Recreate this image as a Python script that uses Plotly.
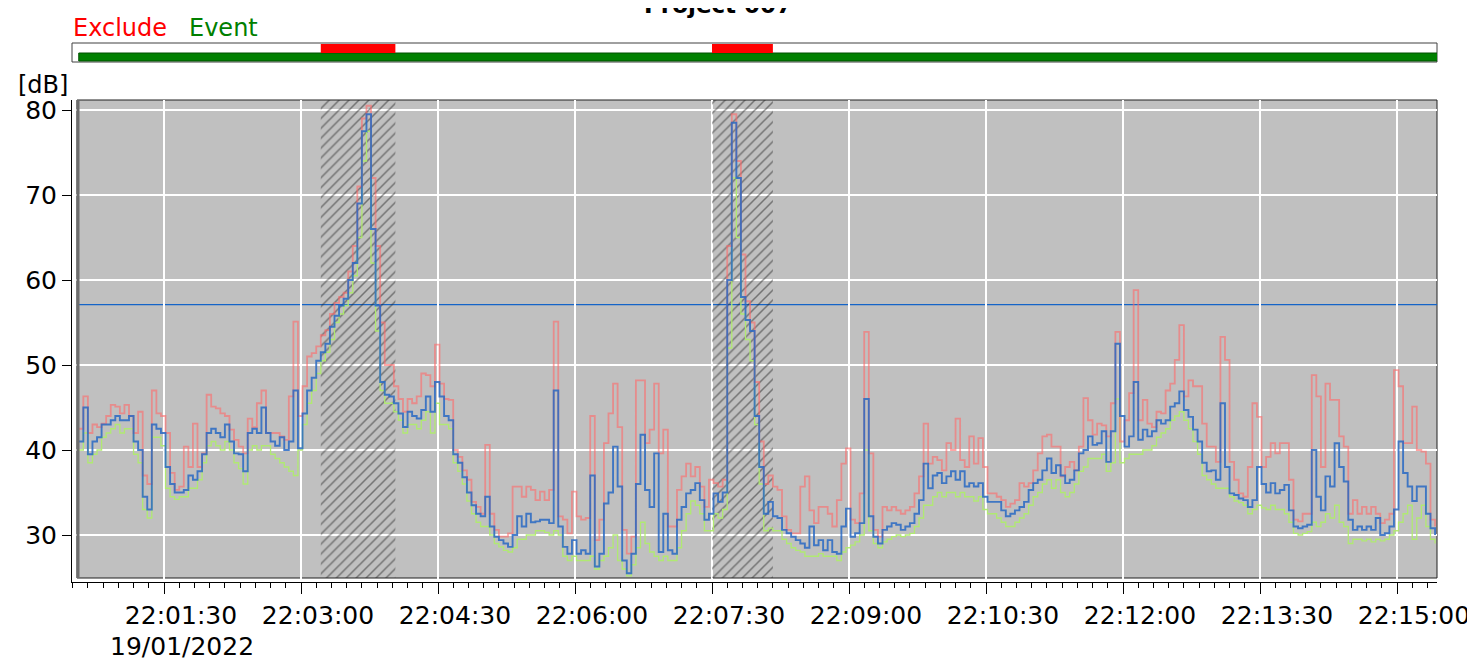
import plotly.graph_objects as go
import pandas as pd

W, H = 1475, 664

# ---------------- data ----------------
start_time = "2022-01-19 22:00:34"
sample_step = "3s"

leq = [
    41, 45, 39.5, 41, 41.5, 43, 43, 43.5, 44, 43.5,
    43.5, 44, 41, 40, 34.5, 33, 43, 42.5, 42, 38,
    36, 35, 35, 35.3, 37, 36.5, 37.5, 39.5, 42, 42.5,
    42, 41.5, 43, 41, 39.6, 39.5, 37.5, 42, 42.5, 42,
    45, 42, 41, 40.5, 41.5, 40, 41, 47, 40.2, 44.3,
    47, 48.5, 50.5, 51.5, 52.5, 54.5, 55.8, 57, 57.8, 60,
    62, 69, 77.5, 79.5, 66, 57, 48, 46.5, 46.3, 45.5,
    44.3, 42.7, 44.5, 44, 43.7, 44.7, 46.3, 44.5, 48, 46.3,
    44, 43.5, 39.5, 38.5, 36.8, 35, 33.5, 32.5, 32.2, 34.5,
    31, 29.8, 29.4, 29, 28.6, 30, 32.2, 31, 32.5, 31.5,
    31.6, 31.8, 31.8, 31.4, 47, 31, 28.6, 27.8, 29.4, 27.8,
    28.2, 27.8, 37, 26.3, 27.8, 33.7, 35, 40.4, 35.7, 27,
    25.5, 27.8, 36, 41.8, 35.3, 33.3, 39.6, 28, 32.5, 28.2,
    27.8, 31.8, 33.3, 34.9, 35.3, 36.1, 34.1, 31.8, 32.5, 34.9,
    33.9, 35, 60, 78.5, 72, 58, 55.3, 54, 44, 38,
    32.5, 33.9, 32.2, 32, 30.6, 30.2, 29.8, 29.4, 29, 28.5,
    31, 28.8, 29.4, 28.2, 29.4, 28, 27.8, 31, 33.1, 29.8,
    30.2, 31.4, 46, 32.2, 29.8, 29, 30.6, 31, 31.4, 31.2,
    30.6, 31, 31.4, 32.5, 34.1, 38.4, 35.5, 37, 37.3, 36.1,
    36.9, 37.5, 36.5, 37.5, 35.7, 36.1, 35.7, 36.1, 34.5, 33.9,
    33.9, 33.9, 32.9, 32.2, 32.5, 32.9, 33.3, 33.9, 35.3, 36.1,
    36.5, 37.6, 39, 37.3, 38.2, 37, 36.1, 36.5, 37.6, 39.6,
    40, 41.6, 40.6, 40.8, 42.2, 38.6, 42.2, 52.5, 44, 40.4,
    41.6, 48, 41.2, 42.4, 41.6, 42.2, 43.5, 43.1, 43.5, 45.1,
    45.5, 46.9, 44.7, 43.9, 42.4, 41, 38.5, 37.5, 37.6, 36.5,
    45.5, 38, 34.9, 34.7, 34.3, 34.1, 33.3, 34.1, 38, 36,
    35, 36.1, 34.9, 35.3, 35.9, 32.9, 31, 30.8, 31, 31.2,
    40, 34.5, 32.9, 36.9, 35.7, 40.8, 38, 36.3, 31.8, 30.6,
    31, 30.6, 31, 30.6, 32, 30, 30.2, 31, 33, 41,
    37.3, 35.7, 34, 35.7, 35.7, 32.5, 30.8, 30,
]

lmax = [
    42.5, 46.3, 42, 43, 42.7, 43.1, 44, 45.3, 45.1, 44.3,
    45.3, 44, 42, 44.5, 37, 36, 47, 44.3, 44, 42,
    37.3, 35.3, 35.7, 40.4, 38, 43.1, 38, 39.6, 46.5, 45.1,
    44.9, 44.3, 44, 42.4, 41.2, 40.4, 39.6, 43.7, 42.7, 45.5,
    47, 42, 42, 42, 41.6, 41.2, 46.3, 55.1, 44, 47.5,
    51, 51.4, 52.2, 53.5, 54.1, 56, 57.3, 58, 58.5, 61,
    64, 71, 79, 80.5, 72, 64, 55, 50, 50, 47.5,
    46, 44.5, 46, 45.5, 46.3, 49, 48.8, 47.5, 52.4, 47.8,
    46, 45.9, 40, 39.2, 37.6, 36.5, 33.9, 33.3, 32.5, 40.6,
    32.5, 30.6, 29.8, 29.8, 30.2, 35.7, 35.7, 34.5, 35.7, 35.3,
    34.1, 35.1, 34.1, 35.3, 55.1, 32.2, 31.8, 30.2, 35.1, 32.2,
    31.8, 32, 44, 29.4, 31.8, 40.8, 44.3, 47.8, 42.7, 30.6,
    27.8, 29.8, 48.2, 48.2, 40.8, 42.4, 47.8, 39.6, 42.4, 31,
    31, 35.3, 36.9, 38.4, 36.9, 38, 35.7, 33.3, 36.5, 36.1,
    35.7, 36.5, 64, 79.5, 74, 63, 57.5, 55, 48, 41,
    36, 37, 35.7, 35.3, 32.2, 30.6, 30.2, 30.2, 35.7, 36.9,
    32.9, 31.4, 33.3, 33.3, 32.5, 31, 34.1, 38.4, 40.2, 31.8,
    31.4, 34.9, 53.9, 39.6, 30.6, 29.8, 33.3, 32.9, 33.3, 32.9,
    32.5, 32.9, 33.3, 34.9, 36.9, 43.1, 38.4, 39.2, 38.8, 37.6,
    40.8, 40, 43.7, 38.8, 38, 41.6, 38.4, 41.4, 38, 34.9,
    34.9, 34.5, 34.1, 33.3, 33.7, 34.1, 36.1, 35.7, 36.1, 37.6,
    39.6, 41.6, 41.8, 40.4, 40.4, 36.9, 38, 38.6, 37.6, 40.4,
    46.1, 43.5, 41.8, 43.1, 42.9, 41.6, 45.5, 53.9, 41, 43.5,
    46.7, 58.8, 43.5, 45.9, 43.1, 42.7, 44.5, 44.3, 47, 47.8,
    50.6, 54.7, 46.3, 48.2, 47.5, 47.5, 43.1, 40.4, 40.4, 38.6,
    53.3, 50.6, 38.6, 36.5, 34.9, 34.5, 38, 45.5, 43.9, 38,
    39.2, 40.8, 39.6, 40.8, 40.8, 36.5, 31.8, 31.6, 32.5, 32.5,
    48.8, 46.3, 38, 47.8, 45.9, 45.9, 41.6, 40.4, 32.5, 34.1,
    32.5, 33.3, 32.5, 33.3, 32.5, 31.4, 31.8, 32.5, 49.4, 47.5,
    40.8, 40.8, 45.1, 40, 39.8, 38.4, 31.8, 31,
]

lmin = [
    40, 42, 38.5, 39.5, 40, 41.5, 42, 42.5, 43, 42,
    42.5, 42.5, 39.5, 38.5, 33, 32, 41.5, 41.5, 40.5, 35.5,
    34.5, 34.2, 34.5, 34.5, 35.5, 35.5, 36.5, 38.5, 40.5, 41,
    40.5, 40, 41, 40, 38.5, 37.8, 36, 40, 40.5, 40,
    40.5, 40.5, 39.5, 39, 38.5, 38, 37.5, 37, 40, 43,
    45.5, 47, 49, 50.5, 51.5, 53, 55, 56, 57, 58.5,
    60.5, 65, 74, 77.5, 62, 54, 47, 45.5, 45.5, 44.5,
    43.5, 42, 43, 43, 42.5, 43.5, 44.5, 42, 45.5, 43,
    43, 42.5, 38.5, 37.5, 36, 34, 32.5, 31.5, 31, 31,
    30, 29, 28.6, 28.2, 28, 28.5, 29.5, 29.5, 30, 30,
    30.5, 30.5, 30.3, 30, 30.5, 30, 27.5, 27, 27.5, 27,
    27, 27, 27.5, 26, 27, 27.5, 28.5, 30, 27, 26,
    25.2, 26.5, 28.5, 31.5, 29, 28, 27.5, 27, 27.5, 27,
    27, 28.5, 30.5, 32.5, 34, 33.5, 32.5, 30.5, 30.5, 32.5,
    32, 33, 52, 72, 65, 56, 53, 50.5, 43, 36,
    30.5, 30.8, 30.5, 30.5, 29.5, 29, 28.5, 28.2, 28, 27.5,
    27.5, 27.5, 27.8, 27.5, 27.5, 27.5, 27, 28, 28.5, 28.8,
    29.2, 30, 40, 30.5, 29, 28.5, 29.2, 29.5, 29.8, 30,
    29.8, 30, 30.2, 31, 32, 33.5, 33.5, 34.5, 35, 34.5,
    35, 35, 34.5, 35, 34.5, 34.5, 34, 34.5, 33, 32.5,
    32.5, 32, 31.5, 31, 31, 31.5, 32, 32.5, 33.5, 34.5,
    35, 36, 36.5, 35.5, 36.5, 35, 34.5, 35, 36, 37.5,
    38, 39, 39, 39, 39.5, 37.5, 38.5, 46, 38.5, 39,
    39.5, 39.5, 39.5, 40, 40, 40.5, 41.5, 42, 42.5, 43.5,
    44, 44.5, 43.5, 42.5, 41, 39.5, 37, 36.5, 36, 35.5,
    35.5, 35.5, 34.5, 34, 33.8, 33.5, 32.5, 33, 33.5, 33.2,
    33, 33.5, 33, 33, 32.5, 31.5, 30.2, 30, 30.2, 30.4,
    31.5, 31, 31.5, 32.5, 32, 33.5, 31.5, 31, 29, 29.5,
    29.5, 29.3, 29.5, 29.2, 29.5, 29.3, 29.5, 30, 30.5, 31.5,
    32.5, 33.5, 29.5, 32, 33.5, 31, 29.5, 29,
]

threshold_db = 57.1
exclude_start = ["2022-01-19 22:03:13", "2022-01-19 22:07:30"]
exclude_end = ["2022-01-19 22:04:02", "2022-01-19 22:08:10"]
event_start = ["2022-01-19 22:00:34"]
event_end = ["2022-01-19 22:15:30"]

y_ticks = [30, 40, 50, 60, 70, 80]

# ---------------- geometry (reference pixel positions) ----------------
OFF = 8                     # page body margin of the viewer
X0, X1 = 72, 1437           # axis domain in px
Y0, Y1 = 100, 582           # plot domain top/bottom px
BG_L, BG_B = 77, 578        # grey area inset
y_lo, y_hi = 24.471, 81.176
x_lo = "2022-01-19 22:00:29.56"
x_hi = "2022-01-19 22:15:26.28"
y_bg_bottom = y_lo + (Y1 - BG_B) / 8.5


def px(x):
    return (x - OFF) / W


def py(y):
    return 1 - (y - OFF) / H


times = pd.date_range(start_time, periods=len(leq), freq=sample_step)

fig = go.Figure()

# hatched exclusion regions
for s, e in zip(exclude_start, exclude_end):
    fig.add_trace(go.Scatter(
        x=[s, s, e, e, s], y=[y_bg_bottom, y_hi, y_hi, y_bg_bottom, y_bg_bottom],
        mode="lines", line=dict(width=0), fill="toself",
        fillcolor="rgba(0,0,0,0)",
        fillpattern=dict(shape="/", fgcolor="#262626", bgcolor="rgba(0,0,0,0)",
                         size=7, solidity=0.22),
        hoverinfo="skip", showlegend=False))

fig.add_trace(go.Scatter(x=times, y=lmin, mode="lines", line_shape="hv",
                         line=dict(color="rgba(175,235,110,0.95)", width=1.3),
                         name="Lmin"))
fig.add_trace(go.Scatter(x=times, y=lmax, mode="lines", line_shape="hv",
                         line=dict(color="rgba(255,105,105,0.6)", width=1.8),
                         name="Lmax"))
fig.add_trace(go.Scatter(x=times, y=leq, mode="lines", line_shape="hv",
                         line=dict(color="rgba(40,105,195,0.85)", width=1.9),
                         name="Leq"))

shapes = []
shapes.append(dict(type="rect", xref="paper", yref="paper",
                   x0=px(BG_L), x1=px(X1), y0=py(BG_B), y1=py(Y0),
                   fillcolor="#c0c0c0", line=dict(color="#202020", width=1),
                   layer="below"))
shapes.append(dict(type="line", xref="paper", yref="paper",
                   x0=px(BG_L + 1), x1=px(BG_L + 1), y0=py(BG_B), y1=py(Y0),
                   line=dict(color="#6e6e6e", width=3), layer="above"))
shapes.append(dict(type="line", xref="paper", yref="y",
                   x0=px(BG_L), x1=px(X1), y0=threshold_db, y1=threshold_db,
                   line=dict(color="#1464c8", width=1.2), layer="between"))
# top status panel
shapes.append(dict(type="rect", xref="paper", yref="paper",
                   x0=px(X0), x1=px(X1), y0=py(62), y1=py(43),
                   fillcolor="white", line=dict(color="#404040", width=1)))
for s, e in zip(event_start, event_end):
    shapes.append(dict(type="rect", xref="x", yref="paper",
                       x0=s, x1=e, y0=py(61), y1=py(53),
                       fillcolor="#008000", line=dict(color="#005000", width=1)))
for s, e in zip(exclude_start, exclude_end):
    shapes.append(dict(type="rect", xref="x", yref="paper",
                       x0=s, x1=e, y0=py(53), y1=py(44),
                       fillcolor="#ff0000", line=dict(width=0)))

FONT = "DejaVu Sans"
annotations = [
    dict(text="<b>Project 007</b>", xref="paper", yref="paper",
         x=px(718), y=py(5), xanchor="center", yanchor="middle",
         showarrow=False, font=dict(size=23, color="black", family=FONT)),
    dict(text="Exclude", xref="paper", yref="paper", x=px(71), y=py(28),
         xanchor="left", yanchor="middle", showarrow=False,
         font=dict(size=24, color="#ff0000", family=FONT)),
    dict(text="Event", xref="paper", yref="paper", x=px(187), y=py(28),
         xanchor="left", yanchor="middle", showarrow=False,
         font=dict(size=24, color="#008000", family=FONT)),
    dict(text="[dB]", xref="paper", yref="paper", x=px(16), y=py(85),
         xanchor="left", yanchor="middle", showarrow=False,
         font=dict(size=24, color="black", family=FONT)),
    dict(text="19/01/2022", xref="paper", yref="paper", x=px(108), y=py(646),
         xanchor="left", yanchor="middle", showarrow=False,
         font=dict(size=25, color="black", family=FONT)),
]

fig.update_layout(
    width=W, height=H, autosize=False,
    margin=dict(l=0, r=0, t=0, b=0, pad=0),
    paper_bgcolor="white", plot_bgcolor="rgba(0,0,0,0)",
    showlegend=False, shapes=shapes, annotations=annotations,
    font=dict(family=FONT, color="black"),
)
fig.update_xaxes(
    type="date", domain=[px(X0), px(X1)], range=[x_lo, x_hi], automargin=False,
    tick0="2022-01-19 22:00:00", dtick=90000, tickformat="%H:%M:%S",
    showgrid=True, gridcolor="white", gridwidth=2, zeroline=False,
    showline=True, linecolor="black", linewidth=1,
    ticks="outside", ticklen=11, tickcolor="black", tickwidth=1,
    ticklabelshift=17,
    tickfont=dict(size=25, color="black", family=FONT),
    minor=dict(tick0="2022-01-19 22:00:00", dtick=10000, ticks="outside",
               ticklen=5, tickcolor="black", showgrid=False),
)
fig.update_yaxes(
    domain=[py(Y1), py(Y0)], range=[y_lo, y_hi], automargin=False,
    tickvals=y_ticks, showgrid=True, gridcolor="white", gridwidth=2,
    zeroline=False, showline=True, linecolor="black", linewidth=1,
    ticks="outside", ticklen=9, tickcolor="black",
    tickfont=dict(size=25, color="black", family=FONT),
)

fig.write_html("out.html")
